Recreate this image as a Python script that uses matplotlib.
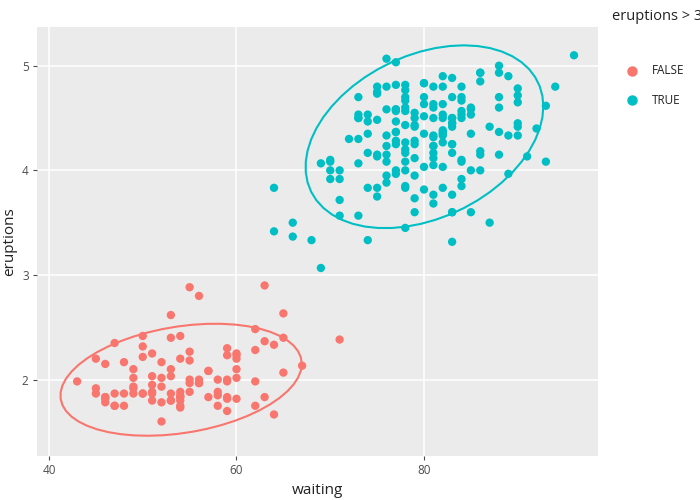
import numpy as np
import matplotlib.pyplot as plt

plt.rcParams['font.family'] = ['Open Sans', 'DejaVu Sans']

# Old Faithful geyser data
eruptions = [
    3.600, 1.800, 3.333, 2.283, 4.533, 2.883, 4.700, 3.600, 1.950, 4.350,
    1.833, 3.917, 4.200, 1.750, 4.700, 2.167, 1.750, 4.800, 1.600, 4.250,
    1.800, 1.750, 3.450, 3.067, 4.533, 3.600, 1.967, 4.083, 3.850, 4.433,
    4.300, 4.467, 3.367, 4.033, 3.833, 2.017, 1.867, 4.833, 1.833, 4.783,
    4.350, 1.883, 4.567, 1.750, 4.533, 3.317, 3.833, 2.100, 4.633, 2.000,
    4.800, 4.716, 1.833, 4.833, 1.733, 4.883, 3.717, 1.667, 4.567, 4.317,
    2.233, 4.500, 1.750, 4.800, 1.817, 4.400, 4.167, 4.700, 2.067, 4.700,
    4.033, 1.967, 4.500, 4.000, 1.983, 5.067, 2.017, 4.567, 3.883, 3.600,
    4.133, 4.333, 4.100, 2.633, 4.067, 4.933, 3.950, 4.517, 2.167, 4.000,
    2.200, 4.333, 1.867, 4.817, 1.833, 4.300, 4.667, 3.750, 1.867, 4.900,
    2.483, 4.367, 2.100, 4.500, 4.050, 1.867, 4.700, 1.783, 4.850, 3.683,
    4.733, 2.300, 4.900, 4.417, 1.700, 4.633, 2.317, 4.600, 1.817, 4.417,
    2.617, 4.067, 4.250, 1.967, 4.600, 3.767, 1.917, 4.500, 2.267, 4.650,
    1.867, 4.167, 2.800, 4.333, 1.833, 4.383, 1.883, 4.933, 2.033, 3.733,
    4.233, 2.233, 4.533, 4.817, 4.333, 1.983, 4.633, 2.017, 5.100, 1.800,
    5.033, 4.000, 2.400, 4.600, 3.567, 4.000, 4.500, 4.083, 1.800, 3.967,
    2.200, 4.150, 2.000, 3.833, 3.500, 4.583, 2.367, 5.000, 1.933, 4.617,
    1.917, 2.083, 4.583, 3.333, 4.167, 4.333, 4.500, 2.417, 4.000, 4.167,
    1.883, 4.583, 4.250, 3.767, 2.033, 4.433, 4.083, 1.833, 4.417, 2.183,
    4.800, 1.833, 4.800, 4.100, 3.966, 4.233, 3.500, 4.366, 2.250, 4.667,
    2.100, 4.350, 4.133, 1.867, 4.600, 1.783, 4.367, 3.850, 1.933, 4.500,
    2.383, 4.700, 1.867, 3.833, 3.417, 4.233, 2.400, 4.800, 2.000, 4.150,
    1.867, 4.267, 1.750, 4.483, 4.000, 4.117, 4.083, 4.267, 3.917, 4.550,
    4.083, 2.417, 4.183, 2.217, 4.450, 1.883, 1.850, 4.283, 3.950, 2.333,
    4.150, 2.350, 4.933, 2.900, 4.583, 3.833, 2.083, 4.367, 2.133, 4.350,
    2.200, 4.450, 3.567, 4.500, 4.150, 3.817, 3.917, 4.450, 2.000, 4.283,
    4.767, 4.533, 1.850, 4.250, 1.983, 2.250, 4.750, 4.117, 2.150, 4.417,
    1.817, 4.467,
]
waiting = [
    79, 54, 74, 62, 85, 55, 88, 85, 51, 85, 54, 84, 78, 47, 83, 52, 62, 84,
    52, 79, 51, 47, 78, 69, 74, 83, 55, 76, 78, 79, 73, 77, 66, 80, 74, 52,
    48, 80, 59, 90, 80, 58, 84, 58, 73, 83, 64, 53, 82, 59, 75, 90, 54, 80,
    54, 83, 71, 64, 77, 81, 59, 84, 48, 82, 60, 92, 78, 78, 65, 73, 82, 56,
    79, 71, 62, 76, 60, 78, 76, 83, 75, 82, 70, 65, 73, 88, 76, 80, 48, 86,
    60, 90, 50, 78, 63, 72, 84, 75, 51, 82, 62, 88, 49, 83, 81, 47, 84, 52,
    86, 81, 75, 59, 89, 79, 59, 81, 50, 85, 59, 87, 53, 69, 77, 56, 88, 81,
    45, 82, 55, 90, 45, 83, 56, 89, 46, 82, 51, 86, 53, 79, 81, 60, 82, 77,
    76, 59, 80, 49, 96, 53, 77, 77, 65, 81, 71, 70, 81, 93, 53, 89, 45, 86,
    58, 78, 66, 76, 63, 88, 52, 93, 49, 57, 77, 68, 81, 81, 73, 50, 85, 74,
    55, 77, 83, 83, 51, 78, 84, 46, 83, 55, 81, 57, 76, 84, 77, 81, 87, 77,
    51, 78, 60, 82, 91, 53, 78, 46, 77, 84, 49, 83, 71, 80, 49, 75, 64, 76,
    53, 94, 55, 76, 50, 82, 54, 75, 78, 79, 78, 78, 70, 79, 70, 54, 86, 50,
    90, 54, 54, 77, 79, 64, 75, 47, 86, 63, 85, 82, 57, 82, 67, 74, 54, 83,
    73, 73, 88, 80, 71, 83, 56, 79, 78, 84, 58, 83, 43, 60, 75, 81, 46, 90,
    46, 74,
]
groups = ['FALSE', 'TRUE']
colors = {'FALSE': '#F8766D', 'TRUE': '#00BFC4'}


def cov_trob(x, nu=5, maxit=25, tol=0.01):
    # robust t covariance, like MASS::cov.trob
    n, p = x.shape
    wt = np.ones(n)
    loc = x.mean(axis=0)
    w = np.sqrt(wt)
    for _ in range(maxit):
        w0 = w
        X = x - loc
        _, d, vt = np.linalg.svd(np.sqrt(w / w.sum())[:, None] * X, full_matrices=False)
        wX = X @ vt.T @ np.diag(1 / d)
        Q = (wX ** 2).sum(axis=1)
        w = wt * (nu + p) / (nu + Q)
        loc = (w[:, None] * x).sum(axis=0) / w.sum()
        if np.all(np.abs(w - w0) < tol):
            break
    cov = (np.sqrt(w)[:, None] * X).T @ (np.sqrt(w)[:, None] * X) / wt.sum()
    return loc, cov


def ellipse(xs, ys, level=0.95, segments=51):
    pts = np.column_stack([xs, ys])
    center, shape = cov_trob(pts)
    dfn, dfd = 2, len(xs) - 1
    qf = dfd / 2 * ((1 - level) ** (-2 / dfd) - 1)
    radius = np.sqrt(dfn * qf)
    ang = np.linspace(0, 2 * np.pi, segments + 1)
    circle = np.column_stack([np.cos(ang), np.sin(ang)])
    chol = np.linalg.cholesky(shape).T
    return center + radius * circle @ chol


er = np.array(eruptions)
wa = np.array(waiting)

fig = plt.figure(figsize=(7, 5), dpi=100)
ax = fig.add_axes([37 / 700, 44 / 500, 561 / 700, 429 / 500])
ax.set_facecolor('#ebebeb')

for g in groups:
    m = (er > 3) if g == 'TRUE' else (er <= 3)
    ax.scatter(wa[m], er[m], s=36, color=colors[g], edgecolors='none', zorder=3)
    el = ellipse(wa[m], er[m])
    ax.plot(el[:, 0], el[:, 1], color=colors[g], lw=1.5, zorder=2)

ax.set_xlim(38.72, 98.56)
ax.set_ylim(1.27, 5.37)
ax.set_xticks([40, 60, 80])
ax.set_yticks([2, 3, 4, 5])
ax.grid(True, color='white', lw=1.1, zorder=0)
ax.set_axisbelow(True)
for s in ax.spines.values():
    s.set_visible(False)
ax.tick_params(length=3, color='#4d4d4d', labelsize=8.5,
               labelcolor='#4d4d4d', pad=3)
ax.set_xlabel('waiting', fontsize=11, color='#222222', labelpad=4)
ax.set_ylabel('eruptions', fontsize=11, color='#222222')
ax.yaxis.set_label_coords((17 - 37) / 561, 0.5)

fig.text(612 / 700, 1 - 16 / 500, 'eruptions > 3', fontsize=10.5, color='#222222',
         ha='left', va='center')
for i, g in enumerate(groups):
    y = 1 - (71 + 29 * i) / 500
    fig.lines.append(plt.Line2D([632 / 700], [y], marker='o', ms=6.5, color=colors[g],
                                transform=fig.transFigure, linestyle='none'))
    fig.text(652 / 700, y, g, fontsize=8.5, color='#222222', ha='left', va='center')

fig.savefig('out.png', dpi=100)
